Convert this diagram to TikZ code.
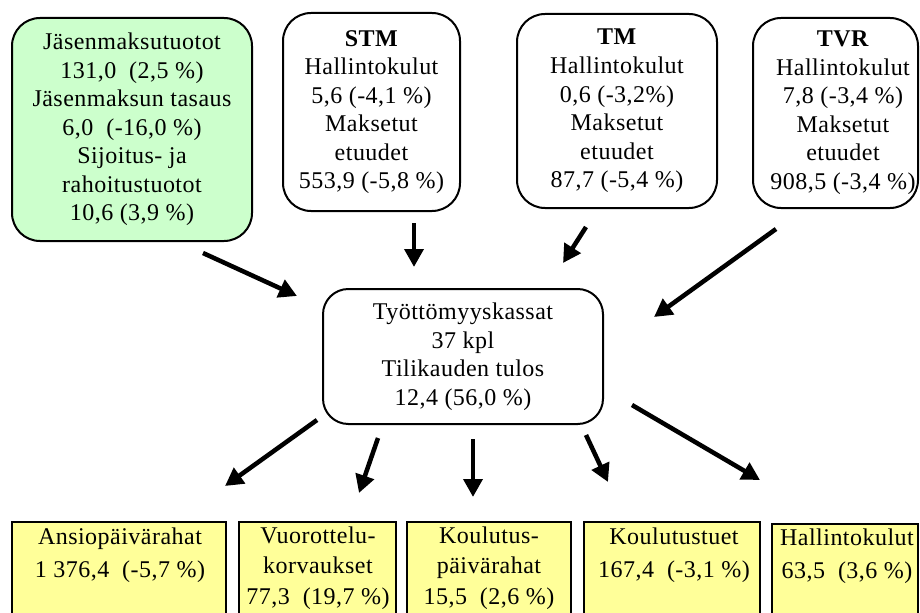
\documentclass[tikz,border=0pt]{standalone}
\usepackage{fontspec}
\setmainfont[LetterSpace=2]{Liberation Serif}
\usetikzlibrary{arrows.meta}
\definecolor{gfill}{RGB}{204,255,204}
\definecolor{yfill}{RGB}{255,255,153}
\begin{document}
\begin{tikzpicture}[x=0.75pt,y=-0.75pt,
  rbox/.style={draw, line width=1.5pt, rounded corners=21pt, align=center, inner sep=0pt,
    font=\fontsize{18}{21.4}\selectfont},
  rtxt/.style={align=center, inner sep=0pt, font=\fontsize{18}{21.4}\selectfont},
  ybox/.style={draw, line width=1pt, fill=yfill, inner sep=0pt},
  ytwo/.style={align=center, inner sep=0pt, font=\fontsize{18}{24.75}\selectfont},
  ythree/.style={align=center, inner sep=0pt, font=\fontsize{18}{22.9}\selectfont},
  arr/.style={-{Triangle[length=13.5pt,width=14pt]}, line width=3.4pt}]
\path[use as bounding box, clip] (0,0) rectangle (920,613);
\fill[white] (0,0) rectangle (920,613);

% top boxes
\node[rbox, fill=gfill, minimum width=180pt, minimum height=167.25pt] (income) at (132,129.5)
  {Jäsenmaksutuotot\\131,0\ \ (2,5 \%)\\Jäsenmaksun tasaus\\6,0\ \ (-16,0 \%)\\Sijoitus- ja\\rahoitustuotot\\10,6 (3,9 \%)};
\node[rbox, minimum width=132.75pt, minimum height=148.5pt] (stm) at (371.5,112)
  {\textbf{STM}\\Hallintokulut\\5,6 (-4,1 \%)\\Maksetut\\etuudet\\553,9 (-5,8 \%)};
\node[rbox, minimum width=150pt, minimum height=145.5pt] (tm) at (617,111)
  {\textbf{TM}\\Hallintokulut\\0,6 (-3,2\%)\\Maksetut\\etuudet\\87,7 (-5,4 \%)};
\node[rbox, minimum width=123.75pt, minimum height=142.5pt] (tvr) at (835.5,113) {};
\node[rtxt] (tvrt) at (843,112.5)
  {\textbf{TVR}\\Hallintokulut\\7,8 (-3,4 \%)\\Maksetut\\etuudet\\908,5 (-3,4 \%)};

% centre
\node[rbox, rounded corners=19pt, minimum width=210pt, minimum height=101.25pt] (kassat) at (463,356.5)
  {Työttömyyskassat\\37 kpl\\Tilikauden tulos\\12,4 (56,0 \%)};

% bottom boxes
\node[ybox, minimum width=160.5pt, minimum height=88.5pt] (ansio) at (119,581) {};
\node[ybox, minimum width=117.75pt, minimum height=88.5pt] (vuor) at (317.5,581) {};
\node[ybox, minimum width=123pt, minimum height=88.5pt] (koulp) at (489,581) {};
\node[ybox, minimum width=132pt, minimum height=88.5pt] (koult) at (672,581) {};
\node[ybox, minimum width=109.5pt, minimum height=87pt] (hall) at (845,582) {};

\node[ytwo] (ansiot) at (120,555) {Ansiopäivärahat\\1 376,4\ \ (-5,7 \%)};
\node[ythree] (vuort) at (318,568) {Vuorottelu-\\korvaukset\\77,3\ \ (19,7 \%)};
\node[ythree] (koulpt) at (489,568) {Koulutus-\\päivärahat\\15,5\ \ (2,6 \%)};
\node[ytwo] (koultt) at (674,555) {Koulutustuet\\167,4\ \ (-3,1 \%)};
\node[ytwo] (hallt) at (847,556) {Hallintokulut\\63,5\ \ (3,6 \%)};

% arrow end points
\coordinate (a1s) at (203,253); \coordinate (a1e) at (297,296);
\coordinate (a2s) at (414,223); \coordinate (a2e) at (414,267);
\coordinate (a3s) at (586,227); \coordinate (a3e) at (563,263);
\coordinate (a4s) at (776,229); \coordinate (a4e) at (654,317);
\coordinate (b1s) at (317,420); \coordinate (b1e) at (225,486);
\coordinate (b2s) at (378,438); \coordinate (b2e) at (359,493);
\coordinate (b3s) at (473,439); \coordinate (b3e) at (473,497);
\coordinate (b4s) at (586,435); \coordinate (b4e) at (608,482);
\coordinate (b5s) at (632,405); \coordinate (b5e) at (760,480);

\foreach \s/\e in {a1s/a1e,a2s/a2e,a3s/a3e,a4s/a4e,b1s/b1e,b2s/b2e,b3s/b3e,b4s/b4e,b5s/b5e}
  \draw[arr] (\s) -- (\e);
\end{tikzpicture}
\end{document}
